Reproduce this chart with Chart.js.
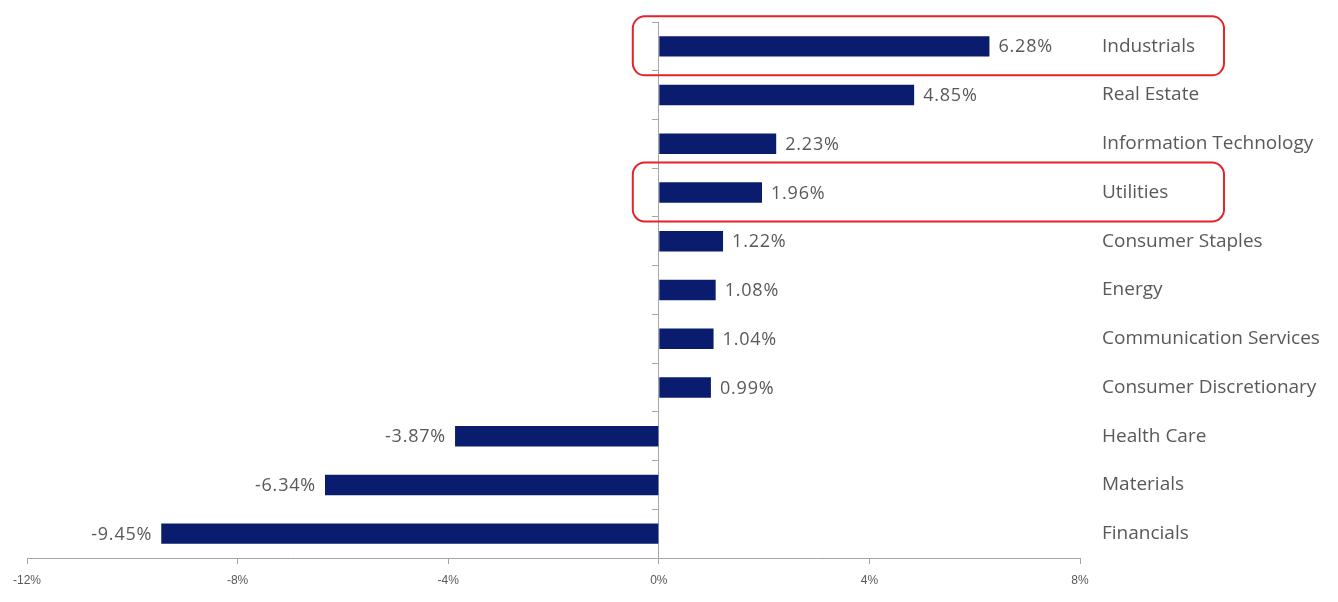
<!DOCTYPE html>
<html>
<head>
<meta charset="utf-8">
<script src="https://cdn.jsdelivr.net/npm/chart.js@4.4.1/dist/chart.umd.min.js"></script>
<style>
  html, body { margin: 0; padding: 0; background: #fff; }
  #wrap { width: 1338px; height: 602px; }
</style>
</head>
<body>
<div id="wrap"><canvas id="barChart"></canvas></div>
<script>
// sector returns (%)
const sectors = ['Industrials', 'Real Estate', 'Information Technology', 'Utilities',
  'Consumer Staples', 'Energy', 'Communication Services', 'Consumer Discretionary',
  'Health Care', 'Materials', 'Financials'];
const returns = [6.28, 4.85, 2.23, 1.96, 1.22, 1.08, 1.04, 0.99, -3.87, -6.34, -9.45];
const xTicks = [-12, -8, -4, 0, 4, 8];
const highlighted = ['Industrials', 'Utilities'];

const grey = '#595959';
const axisGrey = '#a6a6a6';

// value labels next to each bar
const valueLabels = {
  id: 'valueLabels',
  afterDatasetsDraw(chart) {
    const ctx = chart.ctx;
    const meta = chart.getDatasetMeta(0);
    ctx.save();
    ctx.font = '18px "Open Sans"';
    ctx.letterSpacing = '0.8px';
    ctx.fillStyle = grey;
    ctx.textBaseline = 'middle';
    meta.data.forEach((bar, i) => {
      const v = returns[i];
      const txt = v.toFixed(2) + '%';
      if (v >= 0) {
        ctx.textAlign = 'left';
        ctx.fillText(txt, bar.x + 9, bar.y + 1);
      } else {
        ctx.textAlign = 'right';
        ctx.fillText(txt, bar.x - 9, bar.y + 1);
      }
    });
    ctx.restore();
  }
};

// red rounded boxes around highlighted sectors
const highlightBoxes = {
  id: 'highlightBoxes',
  afterDraw(chart) {
    const ctx = chart.ctx;
    const x = chart.scales.x, y = chart.scales.y;
    const left = x.getPixelForValue(0) - 26;
    const right = chart.chartArea.right + 144;
    ctx.save();
    ctx.strokeStyle = '#e2232a';
    ctx.lineWidth = 2;
    highlighted.forEach(name => {
      const cy = y.getPixelForValue(sectors.indexOf(name));
      const top = cy - 30, bottom = cy + 29;
      ctx.beginPath();
      ctx.roundRect(left, top, right - left, bottom - top, 12);
      ctx.stroke();
    });
    ctx.restore();
  }
};

new Chart(document.getElementById('barChart'), {
  type: 'bar',
  data: {
    labels: sectors,
    datasets: [{
      data: returns,
      backgroundColor: '#0a1c6e',
      barPercentage: 0.42,
      categoryPercentage: 1
    }]
  },
  options: {
    indexAxis: 'y',
    responsive: true,
    maintainAspectRatio: false,
    animation: false,
    layout: { padding: { top: 22, left: 27, right: 0, bottom: 0 } },
    plugins: {
      legend: { display: false },
      tooltip: { enabled: false }
    },
    scales: {
      x: {
        min: -12,
        max: 8,
        afterBuildTicks(scale) {
          scale.ticks = xTicks.map(v => ({ value: v }));
        },
        afterFit(scale) { scale.height = 44; },
        grid: { drawOnChartArea: false, drawTicks: true, tickLength: 6, color: axisGrey },
        border: { color: axisGrey, width: 1 },
        ticks: {
          color: grey,
          padding: 9,
          font: { family: '"Liberation Sans Narrow", "Liberation Sans", sans-serif', size: 12 },
          callback: v => v + '%'
        }
      },
      y: {
        position: { x: 0 },
        grid: { drawOnChartArea: false, drawTicks: true, tickLength: 6, color: axisGrey },
        border: { color: axisGrey, width: 1 },
        ticks: { display: false }
      },
      y2: {
        type: 'category',
        position: 'right',
        offset: true,
        afterFit(scale) {
          scale.width = 258;
          scale.paddingTop = 0;
          scale.paddingBottom = 0;
        },
        grid: { display: false },
        border: { display: false },
        ticks: {
          color: grey,
          padding: 14,
          font: { family: '"Open Sans", sans-serif', size: 19 }
        }
      }
    }
  },
  plugins: [valueLabels, highlightBoxes]
});
</script>
</body>
</html>
